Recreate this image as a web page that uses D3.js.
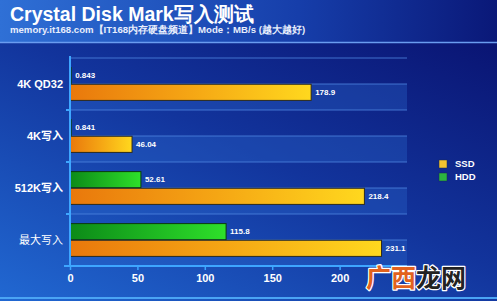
<!DOCTYPE html>
<html>
<head>
<meta charset="utf-8">
<script src="https://cdn.jsdelivr.net/npm/d3@7"></script>
<style>
  html, body { margin: 0; padding: 0; background: #0b1a78; }
  svg { display: block; font-family: "Liberation Sans", Arial, sans-serif; }
</style>
</head>
<body>
<div id="chart"></div>
<script>
const categories = ["4K QD32", "4K写入", "512K写入", "最大写入"];
const seriesNames = ["HDD", "SSD"];
const hddValues = [0.843, 0.841, 52.61, 115.8];
const ssdValues = [178.9, 46.04, 218.4, 231.1];
const xTicks = [0, 50, 100, 150, 200];

const width = 497;
const height = 301;
const margin = { top: 58, right: 90, bottom: 35, left: 70 };

const data = categories.map((c, i) => ({
  category: c,
  values: [
    { key: "HDD", value: hddValues[i] },
    { key: "SSD", value: ssdValues[i] }
  ]
}));

const x = d3.scaleLinear()
  .domain([0, 250])
  .range([margin.left, width - margin.right]);

const y = d3.scaleBand()
  .domain(categories)
  .range([margin.top, height - margin.bottom])
  .paddingInner(0.35)
  .paddingOuter(0.175);

const ySub = d3.scaleBand()
  .domain(seriesNames)
  .range([0, y.bandwidth()])
  .padding(0.03);

const svg = d3.create("svg")
  .attr("width", width)
  .attr("height", height)
  .attr("viewBox", [0, 0, width, height]);

const defs = svg.append("defs");

// background gradient
const bg = defs.append("linearGradient").attr("id", "bg")
  .attr("x1", 0).attr("y1", 1).attr("x2", 0.8).attr("y2", 0);
bg.append("stop").attr("offset", 0).attr("stop-color", "#2168d2");
bg.append("stop").attr("offset", 0.55).attr("stop-color", "#12349c");
bg.append("stop").attr("offset", 1).attr("stop-color", "#0a1574");

const head = defs.append("linearGradient").attr("id", "head")
  .attr("x1", 0).attr("y1", 0).attr("x2", 1).attr("y2", 0);
head.append("stop").attr("offset", 0).attr("stop-color", "#2f70d6");
head.append("stop").attr("offset", 0.6).attr("stop-color", "#163eaa");
head.append("stop").attr("offset", 1).attr("stop-color", "#0a1878");

const ssdGrad = defs.append("linearGradient").attr("id", "ssd")
  .attr("x1", 0).attr("y1", 0).attr("x2", 1).attr("y2", 0);
ssdGrad.append("stop").attr("offset", 0).attr("stop-color", "#e9780c");
ssdGrad.append("stop").attr("offset", 0.5).attr("stop-color", "#f5a614");
ssdGrad.append("stop").attr("offset", 1).attr("stop-color", "#ffd81e");

const hddGrad = defs.append("linearGradient").attr("id", "hdd")
  .attr("x1", 0).attr("y1", 0).attr("x2", 1).attr("y2", 0);
hddGrad.append("stop").attr("offset", 0).attr("stop-color", "#0c8a18");
hddGrad.append("stop").attr("offset", 1).attr("stop-color", "#2ee02a");

svg.append("rect")
  .attr("width", width).attr("height", height)
  .attr("fill", "url(#bg)");

// header
svg.append("rect")
  .attr("width", width).attr("height", 42)
  .attr("fill", "url(#head)");
svg.append("line")
  .attr("x1", 0).attr("x2", width)
  .attr("y1", 42.5).attr("y2", 42.5)
  .attr("stroke", "#6a9cf0").attr("stroke-width", 1.5);
svg.append("line")
  .attr("x1", 0).attr("x2", width)
  .attr("y1", 298).attr("y2", 298)
  .attr("stroke", "#4aa4f4").attr("stroke-width", 2);

svg.append("text")
  .attr("x", 10).attr("y", 21)
  .attr("fill", "white")
  .attr("font-size", 19.5)
  .attr("font-weight", "bold")
  .text("Crystal Disk Mark写入测试");

svg.append("text")
  .attr("x", 10).attr("y", 33)
  .attr("fill", "#e8eefc")
  .attr("font-size", 9.6)
  .attr("font-weight", "bold")
  .text("memory.it168.com【IT168内存硬盘频道】Mode：MB/s (越大越好)");

// row stripes and grid lines
const step = y.step();
const rows = svg.append("g");
categories.forEach((c, i) => {
  const top = margin.top + i * step;
  rows.append("rect")
    .attr("x", x(0)).attr("width", x(250) - x(0))
    .attr("y", top + step / 2).attr("height", step / 2)
    .attr("fill", "#2a66cc").attr("fill-opacity", 0.35);
});
const lines = d3.range(0, categories.length * 2 + 1).map((k) => margin.top + k * step / 2);
rows.selectAll("line")
  .data(lines)
  .join("line")
  .attr("x1", x(0)).attr("x2", x(250))
  .attr("y1", (d) => d).attr("y2", (d) => d)
  .attr("stroke", "#4f86e0")
  .attr("stroke-opacity", 0.8)
  .attr("stroke-width", 1);

// bars
const group = svg.append("g")
  .selectAll("g")
  .data(data)
  .join("g")
  .attr("transform", (d) => `translate(0,${y(d.category)})`);

group.selectAll("rect")
  .data((d) => d.values)
  .join("rect")
  .attr("x", x(0))
  .attr("y", (d) => ySub(d.key))
  .attr("width", (d) => x(d.value) - x(0))
  .attr("height", ySub.bandwidth())
  .attr("fill", (d) => (d.key === "SSD" ? "url(#ssd)" : "url(#hdd)"))
  .attr("stroke", (d) => (d.key === "SSD" ? "#2a2a20" : "#0a3a10"))
  .attr("stroke-width", 1);

group.selectAll("text")
  .data((d) => d.values)
  .join("text")
  .attr("x", (d) => x(d.value) + 4)
  .attr("y", (d) => ySub(d.key) + ySub.bandwidth() / 2)
  .attr("dy", "0.35em")
  .attr("fill", "white")
  .attr("font-size", 8)
  .attr("font-weight", "bold")
  .text((d) => d.value);

// y axis
svg.append("g")
  .attr("transform", `translate(${x(0)},0)`)
  .call(d3.axisLeft(y).tickSize(0).tickPadding(7))
  .call((g) => g.select(".domain").remove())
  .call((g) => g.selectAll("text")
    .attr("fill", "white")
    .attr("font-size", 11)
    .attr("font-weight", (d, i) => (i === 3 ? "normal" : "bold"))
    .attr("font-family", "'Liberation Sans', 'Noto Sans CJK SC', sans-serif"));

svg.append("line")
  .attr("x1", x(0)).attr("x2", x(0))
  .attr("y1", margin.top - 2).attr("y2", height - margin.bottom)
  .attr("stroke", "#3ea6ff").attr("stroke-width", 2);

svg.append("g")
  .selectAll("line")
  .data(d3.range(1, categories.length + 1))
  .join("line")
  .attr("x1", x(0) - 4).attr("x2", x(0))
  .attr("y1", (k) => margin.top + k * step)
  .attr("y2", (k) => margin.top + k * step)
  .attr("stroke", "#3ea6ff").attr("stroke-width", 2);

// x axis
svg.append("g")
  .attr("transform", `translate(0,${height - margin.bottom})`)
  .call(d3.axisBottom(x).tickValues(xTicks).tickSize(4).tickSizeOuter(0).tickPadding(4))
  .call((g) => g.select(".domain")
    .attr("stroke", "#3ea6ff").attr("stroke-width", 2)
    .attr("d", `M${x(0) - 6},0H${x(250)}`))
  .call((g) => g.selectAll(".tick line").attr("stroke", "#3ea6ff").attr("stroke-width", 1.5))
  .call((g) => g.selectAll(".tick text")
    .attr("fill", "white")
    .attr("font-size", 11)
    .attr("font-weight", "bold"));

// legend
const legend = svg.append("g")
  .attr("transform", "translate(439,160)")
  .selectAll("g")
  .data(["SSD", "HDD"])
  .join("g")
  .attr("transform", (d, i) => `translate(0,${i * 13})`);

legend.append("rect")
  .attr("width", 8).attr("height", 8)
  .attr("fill", (d) => (d === "SSD" ? "#f2c231" : "#2cb640"))
  .attr("stroke", "#1a2a50").attr("stroke-width", 0.5);

legend.append("text")
  .attr("x", 16).attr("y", 4)
  .attr("dy", "0.35em")
  .attr("fill", "white")
  .attr("font-size", 9.5)
  .attr("font-weight", "bold")
  .text((d) => d);

// watermark
const wm = svg.append("text")
  .attr("x", 366).attr("y", 287)
  .attr("font-size", 25)
  .attr("font-family", "'Noto Sans CJK SC', sans-serif")
  .attr("font-weight", "bold")
  .attr("stroke", "white")
  .attr("stroke-width", 2.5)
  .attr("paint-order", "stroke")
  .attr("stroke-linejoin", "round");
wm.append("tspan").attr("fill", "#e2621e").text("广西");
wm.append("tspan").attr("fill", "#222").text("龙网");

document.getElementById("chart").append(svg.node());
</script>
</body>
</html>
